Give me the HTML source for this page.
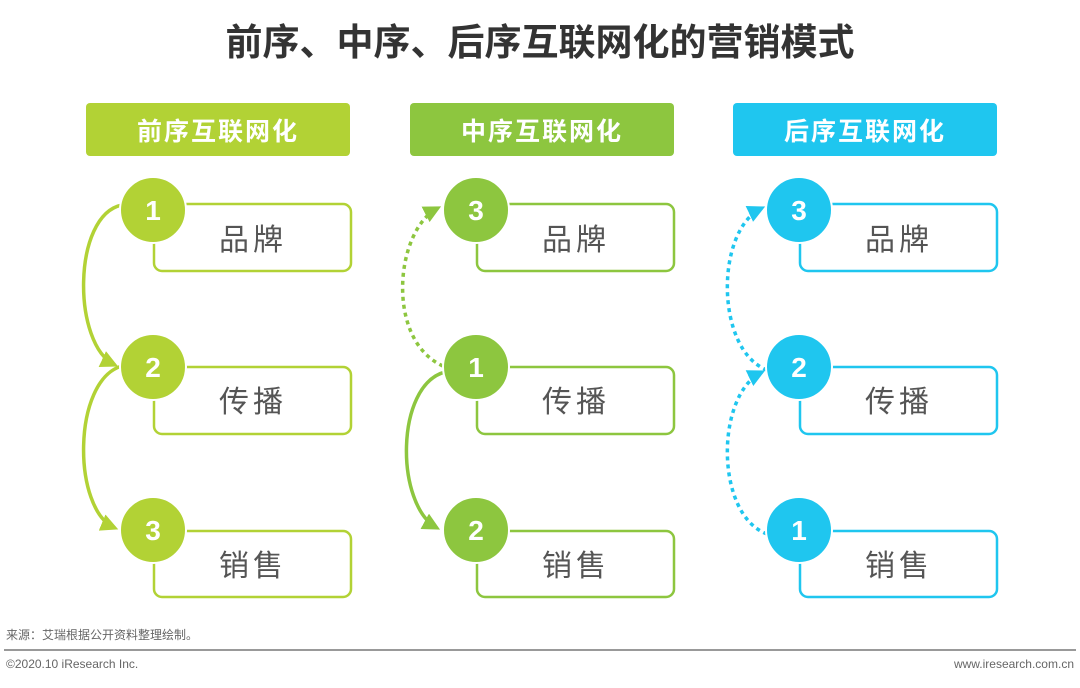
<!DOCTYPE html>
<html><head><meta charset="utf-8"><style>
body{margin:0;width:1080px;height:683px;background:#fff;overflow:hidden}
svg text{font-family:"Liberation Sans","Noto Sans CJK SC",sans-serif}
</style></head><body>
<svg width="1080" height="683" viewBox="0 0 1080 683">
<defs>
<marker id="a1" viewBox="0 0 10 10" refX="8" refY="5" markerWidth="5" markerHeight="5" orient="auto"><path d="M0,0L10,5L0,10z" fill="#b2d235"/></marker>
<marker id="a2" viewBox="0 0 10 10" refX="8" refY="5" markerWidth="5" markerHeight="5" orient="auto"><path d="M0,0L10,5L0,10z" fill="#8dc63f"/></marker>
<marker id="a3" viewBox="0 0 10 10" refX="8" refY="5" markerWidth="5" markerHeight="5" orient="auto"><path d="M0,0L10,5L0,10z" fill="#1fc6ef"/></marker>
</defs>
<text x="540" y="55" text-anchor="middle" font-size="37" font-weight="bold" fill="#333">前序、中序、后序互联网化的营销模式</text>

<rect x="86" y="103" width="264" height="53" rx="4" fill="#b2d235"/>
<text x="218" y="140" text-anchor="middle" font-size="25" font-weight="bold" fill="#fff" letter-spacing="2">前序互联网化</text>
<rect x="410" y="103" width="264" height="53" rx="4" fill="#8dc63f"/>
<text x="542" y="140" text-anchor="middle" font-size="25" font-weight="bold" fill="#fff" letter-spacing="2">中序互联网化</text>
<rect x="733" y="103" width="264" height="53" rx="4" fill="#1fc6ef"/>
<text x="865" y="140" text-anchor="middle" font-size="25" font-weight="bold" fill="#fff" letter-spacing="2">后序互联网化</text>

<g fill="none" stroke-width="2.5">
<g stroke="#b2d235">
<path d="M154,238V263a8,8 0 0 0 8,8H343a8,8 0 0 0 8,-8V212a8,8 0 0 0 -8,-8H186"/>
<path d="M154,395V426a8,8 0 0 0 8,8H343a8,8 0 0 0 8,-8V375a8,8 0 0 0 -8,-8H186"/>
<path d="M154,558V589a8,8 0 0 0 8,8H343a8,8 0 0 0 8,-8V539a8,8 0 0 0 -8,-8H186"/>
</g>
<g stroke="#8dc63f" transform="translate(323,0)">
<path d="M154,238V263a8,8 0 0 0 8,8H343a8,8 0 0 0 8,-8V212a8,8 0 0 0 -8,-8H186"/>
<path d="M154,395V426a8,8 0 0 0 8,8H343a8,8 0 0 0 8,-8V375a8,8 0 0 0 -8,-8H186"/>
<path d="M154,558V589a8,8 0 0 0 8,8H343a8,8 0 0 0 8,-8V539a8,8 0 0 0 -8,-8H186"/>
</g>
<g stroke="#1fc6ef" transform="translate(646,0)">
<path d="M154,238V263a8,8 0 0 0 8,8H343a8,8 0 0 0 8,-8V212a8,8 0 0 0 -8,-8H186"/>
<path d="M154,395V426a8,8 0 0 0 8,8H343a8,8 0 0 0 8,-8V375a8,8 0 0 0 -8,-8H186"/>
<path d="M154,558V589a8,8 0 0 0 8,8H343a8,8 0 0 0 8,-8V539a8,8 0 0 0 -8,-8H186"/>
</g>
</g>
<g font-size="30" fill="#555" text-anchor="middle" letter-spacing="4">
<text x="253" y="250">品牌</text><text x="253" y="412">传播</text><text x="253" y="576">销售</text>
<text x="576" y="250">品牌</text><text x="576" y="412">传播</text><text x="576" y="576">销售</text>
<text x="899" y="250">品牌</text><text x="899" y="412">传播</text><text x="899" y="576">销售</text>
</g>

<g fill="none" stroke-width="3.5">
<path d="M122,205C72,215 72,345 115,365" stroke="#b2d235" marker-end="url(#a1)"/>
<path d="M122,366C72,380 72,510 115,528" stroke="#b2d235" marker-end="url(#a1)"/>
<path d="M443,366C385,340 395,230 438,208" stroke="#8dc63f" stroke-dasharray="4,4" marker-end="url(#a2)"/>
<path d="M445,372C395,385 395,505 437,528" stroke="#8dc63f" marker-end="url(#a2)"/>
<path d="M767,534C715,515 715,395 762,372" stroke="#1fc6ef" stroke-dasharray="4,4" marker-end="url(#a3)"/>
<path d="M767,370C715,350 715,230 762,208" stroke="#1fc6ef" stroke-dasharray="4,4" marker-end="url(#a3)"/>
</g>

<g font-size="28" font-weight="bold" fill="#fff" text-anchor="middle" stroke-width="2">
<circle cx="153" cy="210" r="33" fill="#b2d235" stroke="#fff"/><text x="153" y="220">1</text>
<circle cx="153" cy="367" r="33" fill="#b2d235" stroke="#fff"/><text x="153" y="377">2</text>
<circle cx="153" cy="530" r="33" fill="#b2d235" stroke="#fff"/><text x="153" y="540">3</text>
<circle cx="476" cy="210" r="33" fill="#8dc63f" stroke="#fff"/><text x="476" y="220">3</text>
<circle cx="476" cy="367" r="33" fill="#8dc63f" stroke="#fff"/><text x="476" y="377">1</text>
<circle cx="476" cy="530" r="33" fill="#8dc63f" stroke="#fff"/><text x="476" y="540">2</text>
<circle cx="799" cy="210" r="33" fill="#1fc6ef" stroke="#fff"/><text x="799" y="220">3</text>
<circle cx="799" cy="367" r="33" fill="#1fc6ef" stroke="#fff"/><text x="799" y="377">2</text>
<circle cx="799" cy="530" r="33" fill="#1fc6ef" stroke="#fff"/><text x="799" y="540">1</text>
</g>

<text x="6" y="639" font-size="12" fill="#666">来源：艾瑞根据公开资料整理绘制。</text>
<rect x="4" y="649" width="1072" height="2" fill="#999"/>
<text x="6" y="668" font-size="12" fill="#666">©2020.10 iResearch Inc.</text>
<text x="1074" y="668" font-size="12" fill="#666" text-anchor="end">www.iresearch.com.cn</text>
</svg>
</body></html>
